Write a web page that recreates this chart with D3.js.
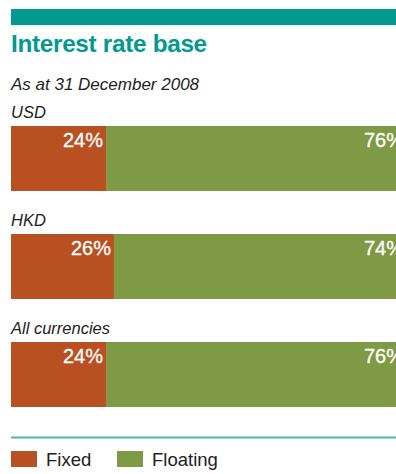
<!DOCTYPE html>
<html><head><meta charset="utf-8">
<script src="https://cdn.jsdelivr.net/npm/d3@7"></script>
<style>html,body{margin:0;padding:0;background:#fff;overflow:hidden}</style>
</head><body>
<script>
const categories = ["USD", "HKD", "All currencies"];
const fixedValues = [24, 26, 24];
const floatingValues = [76, 74, 76];
const seriesNames = ["Fixed", "Floating"];
const colors = ["#b95022", "#7f9a45"];
const title = "Interest rate base";
const subtitle = "As at 31 December 2008";

const W = 396, H = 474;
const font = "'Liberation Sans', Arial, Helvetica, sans-serif";
const svg = d3.select("body").append("svg").attr("width", W).attr("height", H)
  .style("font-family", font);

svg.append("rect").attr("x", 11).attr("y", 9).attr("width", W - 11).attr("height", 16).attr("fill", "#009a8f");
svg.append("text").attr("x", 11).attr("y", 52).attr("fill", "#009a8f")
  .attr("font-size", 24.3).attr("font-weight", "bold").attr("letter-spacing", -0.3).text(title);
svg.append("text").attr("x", 11).attr("y", 90).attr("fill", "#222")
  .attr("font-size", 17).attr("font-style", "italic").text(subtitle);

const x = d3.scaleLinear().domain([0, 100]).range([11, 407]);
const y = d3.scaleBand().domain(categories).range([126, 407]).paddingInner(43 / 108).paddingOuter(0);

const data = categories.map((c, i) => ({ cat: c, vals: [fixedValues[i], floatingValues[i]] }));
const stack = d3.stack().keys([0, 1]).value((d, k) => d.vals[k]);
const series = stack(data);

const g = svg.append("g");
data.forEach(d => {
  g.append("text").attr("x", 11).attr("y", y(d.cat) - 8).attr("fill", "#222")
    .attr("font-size", 16.5).attr("font-style", "italic").text(d.cat);
});

series.forEach((s, si) => {
  g.selectAll(null).data(s).enter().append("rect")
    .attr("x", d => x(d[0])).attr("width", d => x(d[1]) - x(d[0]))
    .attr("y", d => y(d.data.cat)).attr("height", y.bandwidth())
    .attr("fill", colors[si]);
  g.selectAll(null).data(s).enter().append("text")
    .attr("x", d => x(d[1]) - 3).attr("y", d => y(d.data.cat) + 20.5)
    .attr("text-anchor", "end").attr("fill", "#fff").attr("font-size", 20)
    .attr("stroke", "#fff").attr("stroke-width", 0.3)
    .text(d => (d[1] - d[0]) + "%");
});

svg.append("line").attr("x1", 11).attr("x2", W).attr("y1", 437.5).attr("y2", 437.5)
  .attr("stroke", "#4db8b0").attr("stroke-width", 2);

const legendX = [11, 117];
seriesNames.forEach((n, i) => {
  svg.append("rect").attr("x", legendX[i]).attr("y", 451).attr("width", 26).attr("height", 16).attr("fill", colors[i]);
  svg.append("text").attr("x", legendX[i] + 35).attr("y", 466).attr("font-size", 18.5).attr("fill", "#222").text(n);
});
</script>
</body></html>
